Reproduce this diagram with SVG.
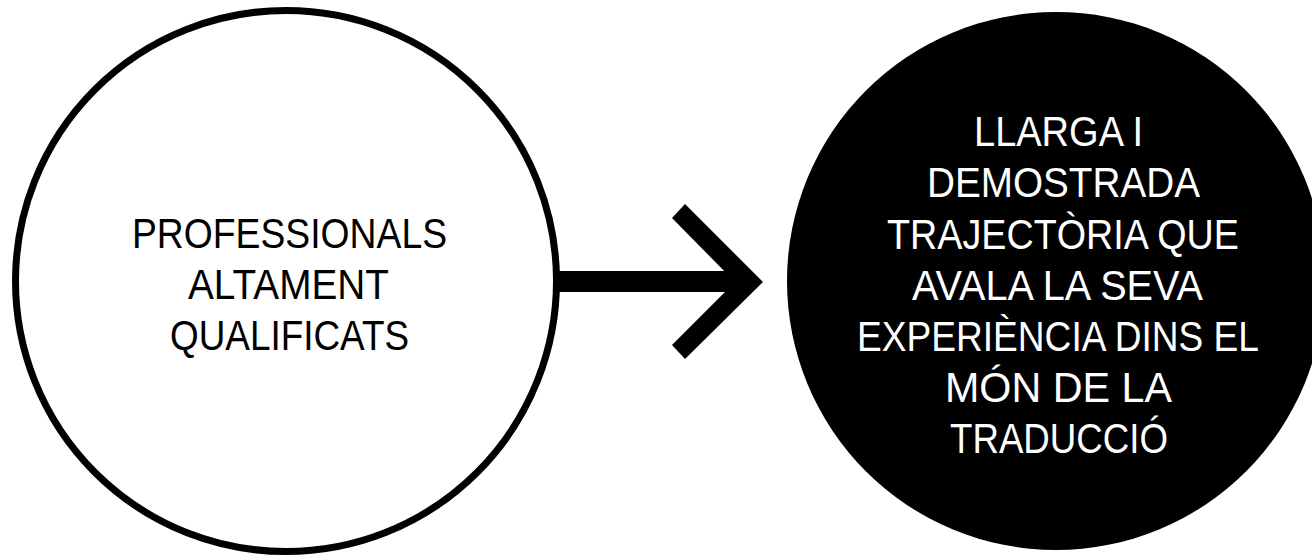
<svg xmlns="http://www.w3.org/2000/svg" width="1312" height="555" viewBox="0 0 1312 555">
<style>
.t{font-family:"Liberation Sans","Open Sans",Arial,sans-serif;font-size:42px;text-anchor:middle}
.dark{fill:#000}
.light{fill:#fff}
</style>
<rect x="0" y="0" width="1312" height="555" fill="#fff"/>
<g id="node-left">
<circle cx="286" cy="281" r="270.5" fill="#fff" stroke="#000" stroke-width="7"/>
<text class="t dark" x="289.5" y="248" textLength="315" lengthAdjust="spacingAndGlyphs">PROFESSIONALS</text>
<text class="t dark" x="288.5" y="299" textLength="201" lengthAdjust="spacingAndGlyphs">ALTAMENT</text>
<text class="t dark" x="289.5" y="350" textLength="239" lengthAdjust="spacingAndGlyphs">QUALIFICATS</text>
</g>
<g id="node-right">
<circle cx="1056" cy="281" r="269" fill="#000"/>
<text class="t light" x="1058.5" y="146" textLength="169" lengthAdjust="spacingAndGlyphs">LLARGA I</text>
<text class="t light" x="1063.5" y="197" textLength="273" lengthAdjust="spacingAndGlyphs">DEMOSTRADA</text>
<text class="t light" x="1063" y="249" textLength="352" lengthAdjust="spacingAndGlyphs">TRAJECTÒRIA QUE</text>
<text class="t light" x="1057.5" y="300" textLength="291" lengthAdjust="spacingAndGlyphs">AVALA LA SEVA</text>
<text class="t light" x="1058" y="351" textLength="402" lengthAdjust="spacingAndGlyphs">EXPERIÈNCIA DINS EL</text>
<text class="t light" x="1058.5" y="402" textLength="227" lengthAdjust="spacingAndGlyphs">MÓN DE LA</text>
<text class="t light" x="1059" y="453" textLength="218" lengthAdjust="spacingAndGlyphs">TRADUCCIÓ</text>
</g>
<g id="connectors">
<rect x="556" y="271" width="182" height="21" fill="#000"/>
<polygon points="685,204 763,282 685,359 672,345 735,282 672,218" fill="#000"/>
</g>
</svg>
